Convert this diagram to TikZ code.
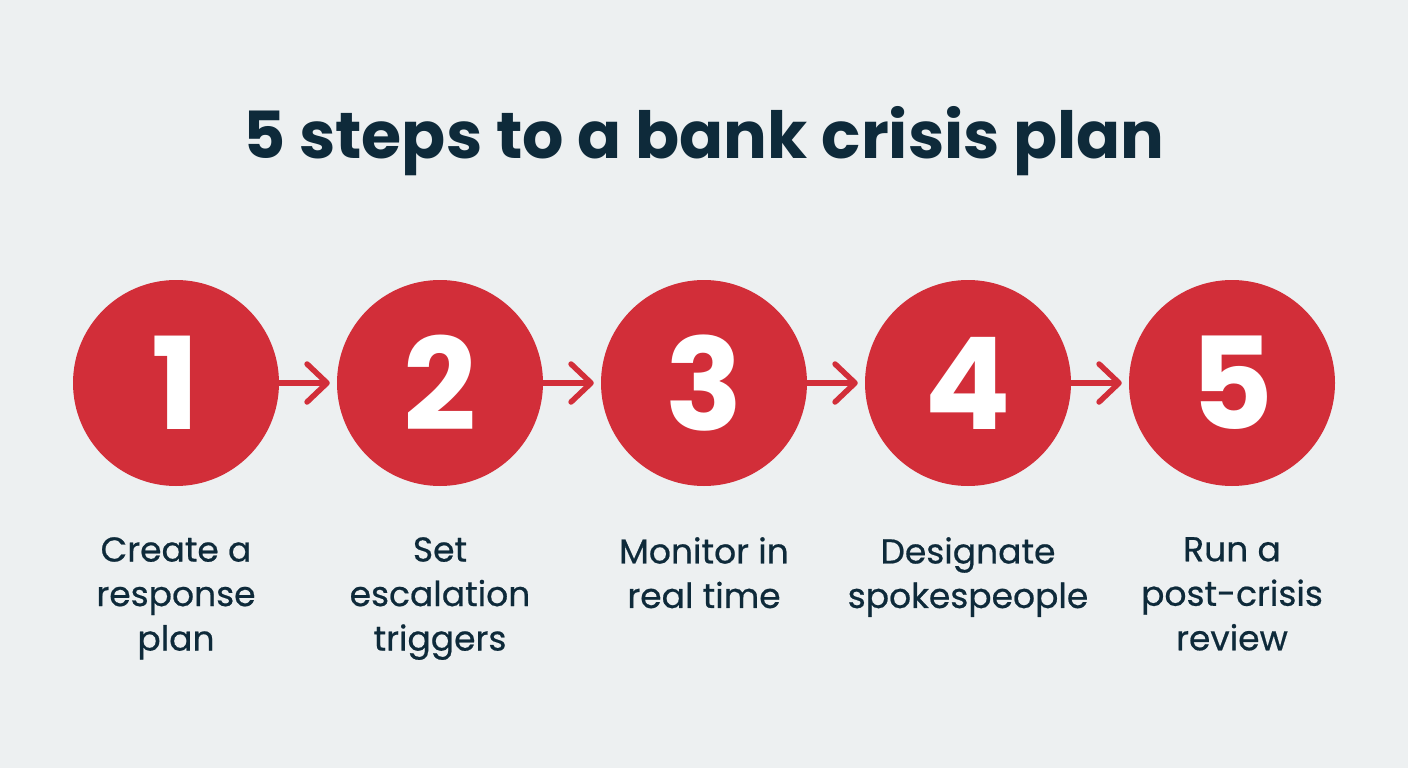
\documentclass[tikz,border=0pt]{standalone}
\usepackage{fontspec}
\setmainfont{Poppins}
\newfontfamily\labelfont[FakeBold=0.6]{Poppins}
\usetikzlibrary{arrows.meta,calc}
\definecolor{bg}{HTML}{EDF0F1}
\definecolor{stepred}{HTML}{D22E39}
\definecolor{ink}{HTML}{0E2A3A}
\tikzset{
  stepcircle/.style={circle,fill=stepred,minimum size=206pt,inner sep=0pt,text=white,font=\fontsize{128}{128}\selectfont\bfseries},
  steplabel/.style={anchor=north,inner sep=0pt,align=center,text=ink,font=\labelfont\fontsize{34.5}{44.5}\selectfont},
  steparrow/.style={draw=stepred,line width=5.5pt,line cap=round,
    -{Straight Barb[length=20pt,width=38pt,round]}},
}
\begin{document}
\begin{tikzpicture}[x=1pt,y=-1pt]
\fill[bg] (0,0) rectangle (1408,768);
\useasboundingbox (0,0) rectangle (1408,768);
\node[anchor=base,text=ink,font=\fontsize{65}{65}\selectfont\bfseries] (title) at (704,158) {5 steps to a bank crisis plan};
\foreach \i/\x in {1/176,2/440,3/704,4/968,5/1232}{
  \node[stepcircle] (c\i) at (\x,383) {\i};
}
\foreach \a/\b in {1/2,2/3,3/4,4/5}{
  \draw[steparrow] (c\a.east) -- ($(c\b.west)+(-7,0)$);
}
\node[steplabel] (l1) at (176,537) {Create a\\response\\plan};
\node[steplabel] (l2) at (440,537) {Set\\escalation\\triggers};
\node[steplabel] (l3) at (704,537) {Monitor in\\real time};
\node[steplabel] (l4) at (968,537) {Designate\\spokespeople};
\node[steplabel] (l5) at (1232,537) {Run a\\post-crisis\\review};
\end{tikzpicture}
\end{document}
